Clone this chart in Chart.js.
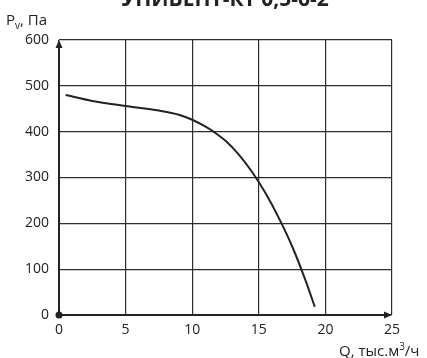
<!DOCTYPE html>
<html>
<head>
<meta charset="utf-8">
<script src="https://cdn.jsdelivr.net/npm/chart.js@4"></script>
<style>
  html, body { margin: 0; padding: 0; background: #fff; }
  #wrap { width: 427px; height: 358px; position: relative; }
</style>
</head>
<body>
<div id="wrap"><canvas id="chart"></canvas></div>
<script>
// fan curve, Q in thousand m3/h, Pv in Pa
const TITLE = "УНИВЕНТ-КТ 0,5-6-2";
const flowQ = [0.5, 2.5, 5, 7.5, 9, 10, 11, 11.5, 12.5, 13.5, 14.5, 15.5, 16.5, 17.5, 18.5, 19.2];
const pressure = [480, 467, 456, 446, 437, 426, 411, 402, 380, 350, 312, 266, 212, 150, 76, 18];
const xTicks = [0, 5, 10, 15, 20, 25];
const yTicks = [0, 100, 200, 300, 400, 500, 600];

const INK = "#222";
const GRID = "#2e2e2e";
const FONT = "'Open Sans', 'Liberation Sans', sans-serif";

// axis arrows, origin dot, axis captions
const decor = {
  id: "decor",
  afterDraw(chart) {
    const { ctx, scales } = chart;
    const x0 = scales.x.getPixelForValue(0);
    const x1 = scales.x.getPixelForValue(25);
    const y0 = scales.y.getPixelForValue(0);
    const y1 = scales.y.getPixelForValue(600);
    ctx.save();
    ctx.strokeStyle = INK;
    ctx.fillStyle = INK;
    ctx.lineWidth = 2;
    ctx.beginPath();
    ctx.moveTo(x0, y0);
    ctx.lineTo(x1 - 4, y0);
    ctx.moveTo(x0, y0);
    ctx.lineTo(x0, y1 + 4);
    ctx.stroke();
    // arrow heads
    ctx.beginPath();
    ctx.moveTo(x1, y0);
    ctx.lineTo(x1 - 8, y0 - 3.5);
    ctx.lineTo(x1 - 8, y0 + 3.5);
    ctx.closePath();
    ctx.fill();
    ctx.beginPath();
    ctx.moveTo(x0, y1);
    ctx.lineTo(x0 - 3.5, y1 + 8);
    ctx.lineTo(x0 + 3.5, y1 + 8);
    ctx.closePath();
    ctx.fill();
    ctx.beginPath();
    ctx.arc(x0, y0, 3.5, 0, Math.PI * 2);
    ctx.fill();

    // title, cut by the top edge
    ctx.font = "bold 21px " + FONT;
    ctx.textAlign = "center";
    ctx.textBaseline = "alphabetic";
    ctx.fillText(TITLE, 225, 6);

    // y caption: Pv, Па
    ctx.textAlign = "left";
    ctx.font = "15px " + FONT;
    ctx.fillText("P", 6, 25);
    let w = ctx.measureText("P").width;
    ctx.font = "10px " + FONT;
    ctx.fillText("v", 6 + w, 29);
    w += ctx.measureText("v").width;
    ctx.font = "15px " + FONT;
    ctx.fillText(", Па", 6 + w, 25);

    // x caption: Q, тыс.м3/ч
    ctx.font = "15px " + FONT;
    let sx = 339;
    ctx.fillText("Q, тыс.м", sx, 356);
    sx += ctx.measureText("Q, тыс.м").width;
    ctx.font = "10px " + FONT;
    ctx.fillText("3", sx, 350);
    sx += ctx.measureText("3").width;
    ctx.font = "15px " + FONT;
    ctx.fillText("/ч", sx, 356);
    ctx.restore();
  },
};

new Chart(document.getElementById("chart"), {
  type: "line",
  data: {
    datasets: [{
      data: flowQ.map((q, i) => ({ x: q, y: pressure[i] })),
      borderColor: INK,
      borderWidth: 2,
      pointRadius: 0,
      cubicInterpolationMode: "monotone",
      fill: false,
    }],
  },
  options: {
    responsive: true,
    maintainAspectRatio: false,
    animation: false,
    layout: { padding: { top: 40, right: 35, left: 0, bottom: 0 } },
    plugins: { legend: { display: false }, tooltip: { enabled: false } },
    scales: {
      x: {
        type: "linear",
        min: 0,
        max: 25,
        afterBuildTicks(s) { s.ticks = xTicks.map((v) => ({ value: v })); },
        afterFit(s) { s.height = 43; },
        grid: { color: GRID, lineWidth: 1.2, drawTicks: false },
        border: { display: false },
        ticks: { color: INK, padding: 7, font: { family: FONT, size: 14 } },
      },
      y: {
        min: 0,
        max: 600,
        afterBuildTicks(s) { s.ticks = yTicks.map((v) => ({ value: v })); },
        afterFit(s) { s.width = 59; },
        grid: { color: GRID, lineWidth: 1.2, drawTicks: false },
        border: { display: false },
        ticks: { color: INK, padding: 10, font: { family: FONT, size: 14 } },
      },
    },
  },
  plugins: [decor],
});
</script>
</body>
</html>
